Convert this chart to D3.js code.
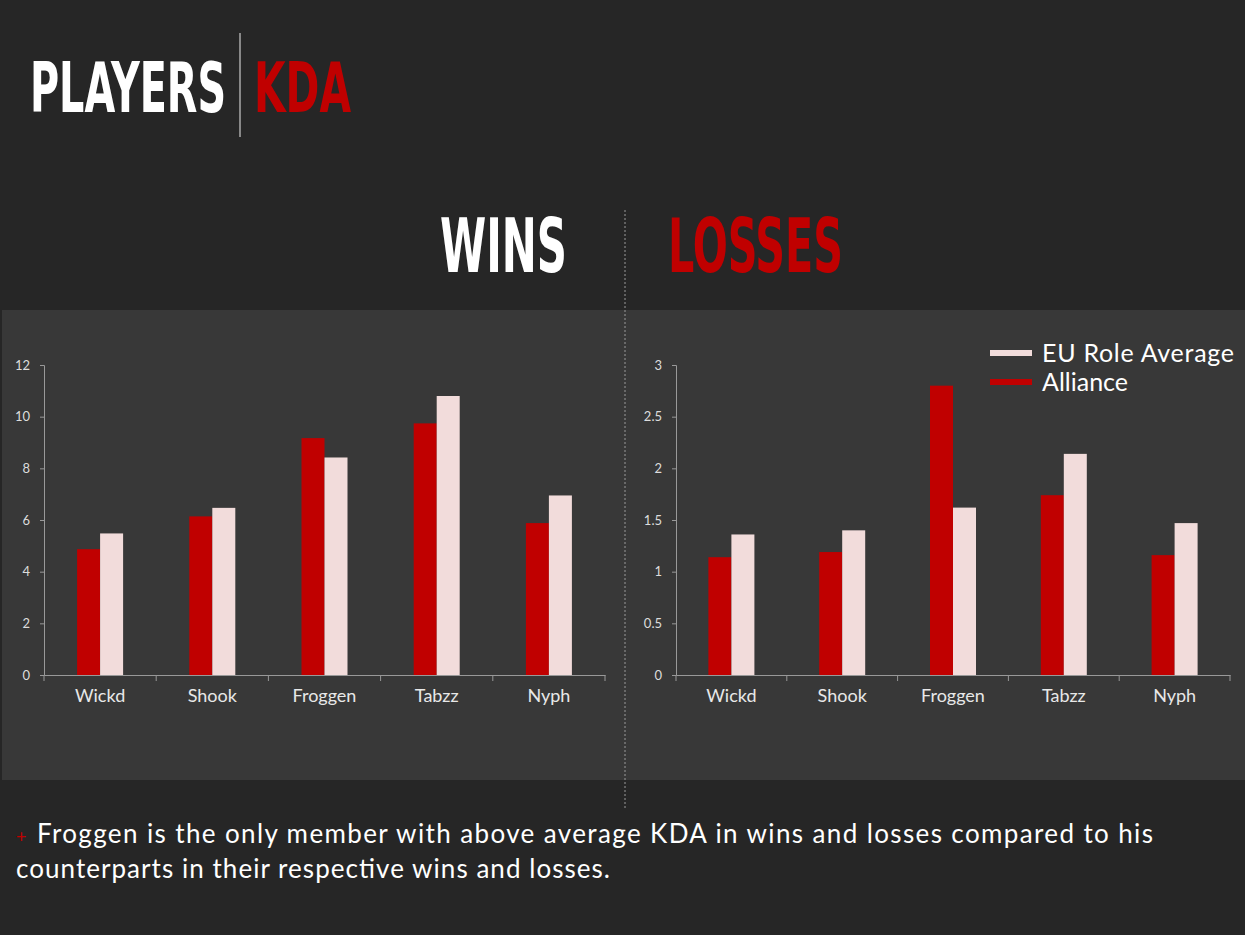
<!DOCTYPE html><html><head><meta charset="utf-8"><script src="https://cdn.jsdelivr.net/npm/d3@7"></script>
<style>body{margin:0;background:#262626}svg{display:block}</style></head><body><svg id="c" width="1245" height="935"></svg>
<script>
const players=["Wickd","Shook","Froggen","Tabzz","Nyph"];
const winsAlliance=[4.87,6.14,9.17,9.74,5.88];
const winsEU=[5.48,6.47,8.42,10.8,6.95];
const lossAlliance=[1.14,1.19,2.80,1.74,1.16];
const lossEU=[1.36,1.40,1.62,2.14,1.47];
const winsTicks=[0,2,4,6,8,10,12];
const lossTicks=[0,0.5,1,1.5,2,2.5,3];
const RED="#c00000",PINK="#f2dcdb";
const svg=d3.select("#c");
svg.append("rect").attr("width",1245).attr("height",935).attr("fill","#262626");
svg.append("rect").attr("x",2).attr("y",310).attr("width",1243).attr("height",470).attr("fill","#383838");
svg.append("line").attr("x1",625).attr("x2",625).attr("y1",210).attr("y2",810).attr("stroke","#999").attr("stroke-dasharray","2,2");
const cond="'Liberation Sans Narrow','DejaVu Sans Condensed',sans-serif";
function title(x,y,fs,len,col,t){svg.append("text").attr("x",x).attr("y",y).attr("font-family",cond).attr("font-weight","bold").attr("font-size",fs).attr("fill",col).attr("textLength",len).attr("lengthAdjust","spacingAndGlyphs").text(t);}
title(30,112,70,196,"#fff","PLAYERS");
svg.append("line").attr("x1",240).attr("x2",240).attr("y1",33).attr("y2",137).attr("stroke","#888").attr("stroke-width",2);
title(254,112,70,97,RED,"KDA");
title(440,272,74,127,"#fff","WINS");
title(668,272,74,175,RED,"LOSSES");
const font="Lato,'Open Sans',sans-serif";
function chart(x0,x1,ymax,ticks,a,e){
  const x=d3.scaleBand().domain(players).range([x0,x1]);
  const y=d3.scaleLinear().domain([0,ymax]).range([675,365]);
  const g=svg.append("g");
  const bw=23;
  players.forEach((p,i)=>{
    const c=x(p)+x.bandwidth()/2;
    g.append("rect").attr("x",c-bw).attr("width",bw).attr("y",y(a[i])).attr("height",675-y(a[i])).attr("fill",RED);
    g.append("rect").attr("x",c).attr("width",bw).attr("y",y(e[i])).attr("height",675-y(e[i])).attr("fill",PINK);
  });
  const ya=g.append("g").attr("transform",`translate(${x0},0)`).call(d3.axisLeft(y).tickValues(ticks).tickSize(4).tickPadding(10).tickFormat(d=>String(d)));
  ya.selectAll("text").attr("font-family",font).attr("font-size",13).attr("fill","#ddd");
  const xa=g.append("g").attr("transform","translate(0,675)").call(d3.axisBottom(x).tickSize(0).tickPadding(14));
  xa.selectAll("text").attr("font-family",font).attr("font-size",18).attr("fill","#e8e8e8");
  players.concat([null]).forEach((p,i)=>{const tx=i<players.length?x(p):x1;g.append("line").attr("x1",tx).attr("x2",tx).attr("y1",675).attr("y2",681).attr("stroke","#999");});
  g.selectAll(".domain").attr("stroke","#999");
  g.selectAll(".tick line").attr("stroke","#999");
}
chart(44,605,12,winsTicks,winsAlliance,winsEU);
chart(676,1230,3,lossTicks,lossAlliance,lossEU);
const leg=[["EU Role Average",PINK,353,192],["Alliance",RED,382,86]];
leg.forEach(l=>{svg.append("line").attr("x1",990).attr("x2",1032).attr("y1",l[2]).attr("y2",l[2]).attr("stroke",l[1]).attr("stroke-width",6);
svg.append("text").attr("x",1042).attr("y",l[2]+9).attr("font-family",font).attr("font-size",25).attr("fill","#fff").attr("textLength",l[3]).text(l[0]);});
const ft=svg.append("text").attr("font-family",font).attr("font-size",26).attr("fill","#fff");
ft.append("tspan").attr("x",16).attr("y",843).attr("fill",RED).attr("font-size",18).text("+");
ft.append("tspan").attr("x",37).attr("textLength",1116).text("Froggen is the only member with above average KDA in wins and losses compared to his");
svg.append("text").attr("x",16).attr("y",878).attr("font-family",font).attr("font-size",26).attr("fill","#fff").attr("textLength",594).text("counterparts in their respective wins and losses.");
</script></body></html>
